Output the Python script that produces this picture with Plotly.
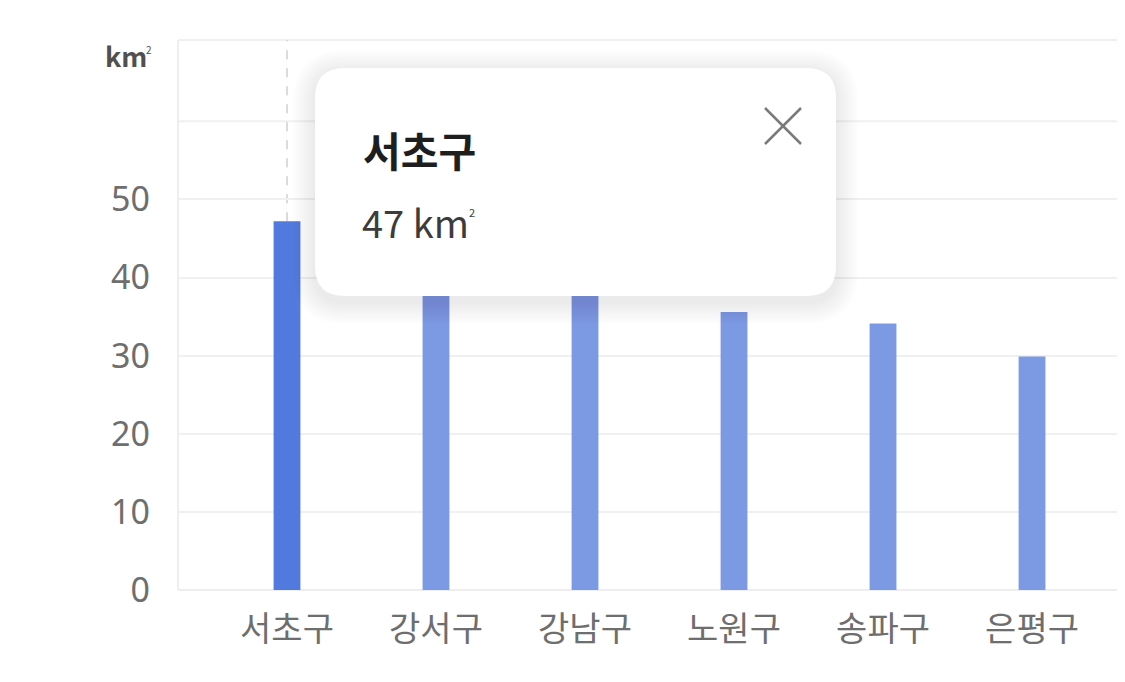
import plotly.graph_objects as go

districts = ["서초구", "강서구", "강남구", "노원구", "송파구", "은평구"]
areas = [47.2, 41.4, 39.5, 35.6, 34.1, 29.9]
y_tick_vals = [0, 10, 20, 30, 40, 50]
y_extra_grid = [60]
unit_base = "km"
unit_sup = "2"
selected = 0

W, H = 1125, 682
OFF = 8  # page body margin
SL, SR, ST, SB = 178, 1125, 40, 590
L = SL - OFF
T = ST - OFF
R = W - (SR - OFF)
B = H - (SB - OFF)
PW, PH = W - L - R, H - T - B
FONT = "Noto Sans CJK KR, Noto Sans, sans-serif"

def px(x):
    return (x - SL) / PW

def py(y):
    return (SB - y) / PH

def rrect(x0, y0, x1, y1, r):
    pts = [
        f"M {px(x0 + r)},{py(y0)}",
        f"L {px(x1 - r)},{py(y0)}",
        f"Q {px(x1)},{py(y0)} {px(x1)},{py(y0 + r)}",
        f"L {px(x1)},{py(y1 - r)}",
        f"Q {px(x1)},{py(y1)} {px(x1 - r)},{py(y1)}",
        f"L {px(x0 + r)},{py(y1)}",
        f"Q {px(x0)},{py(y1)} {px(x0)},{py(y1 - r)}",
        f"L {px(x0)},{py(y0 + r)}",
        f"Q {px(x0)},{py(y0)} {px(x0 + r)},{py(y0)}",
        "Z",
    ]
    return " ".join(pts)

colors = ["#5279DD" if i == selected else "#7C99E3" for i in range(len(districts))]

fig = go.Figure(
    go.Bar(
        x=districts,
        y=areas,
        marker=dict(color=colors, line=dict(width=0)),
        width=0.18,
        hoverinfo="skip",
    )
)

shapes = []
for gv in y_extra_grid:
    shapes.append(dict(type="line", xref="paper", yref="y", x0=0, x1=1, y0=gv, y1=gv,
                       line=dict(color="#F0F0F0", width=2), layer="below"))
shapes.append(dict(type="line", xref="x", yref="y", x0=districts[selected], x1=districts[selected],
                   y0=areas[selected], y1=70.4, line=dict(color="#CFCFD4", width=1.5, dash="dash"), layer="below"))
shapes.append(dict(type="line", xref="paper", yref="paper", x0=0, x1=0, y0=0, y1=1,
                   line=dict(color="#EEEEEE", width=2), layer="below"))
shapes.append(dict(type="line", xref="paper", yref="paper", x0=0, x1=1, y0=1, y1=1,
                   line=dict(color="#F0F0F0", width=2), layer="below"))
bx0, by0, bx1, by1, rad = 315, 68, 836, 296, 30
for i in range(10):
    g = 22 - i * 2.2
    shapes.append(dict(type="path", xref="paper", yref="paper",
                       path=rrect(bx0 - g, by0 - g + 4, bx1 + g, by1 + g + 6, rad + g),
                       fillcolor="rgba(0,0,0,0.009)", line=dict(width=0)))
shapes.append(dict(type="path", xref="paper", yref="paper", path=rrect(bx0, by0, bx1, by1, rad),
                   fillcolor="white", line=dict(width=0)))
cx, cy, s = 783, 126, 18
shapes.append(dict(type="line", xref="paper", yref="paper", x0=px(cx - s), y0=py(cy - s), x1=px(cx + s), y1=py(cy + s),
                   line=dict(color="#7A7A7A", width=2.5)))
shapes.append(dict(type="line", xref="paper", yref="paper", x0=px(cx - s), y0=py(cy + s), x1=px(cx + s), y1=py(cy - s),
                   line=dict(color="#7A7A7A", width=2.5)))

annotations = [
    dict(text=f"<b>{unit_base}</b>", xref="paper", yref="paper",
         x=px(126), y=py(56), showarrow=False,
         xanchor="center", yanchor="middle", font=dict(family=FONT, size=27, color="#505050")),
    dict(text=unit_sup, xref="paper", yref="paper", x=px(149), y=py(49), showarrow=False,
         xanchor="center", yanchor="middle", font=dict(family=FONT, size=10, color="#505050")),
    dict(text=f"<b>{districts[selected]}</b>", xref="paper", yref="paper", x=px(361), y=py(149), showarrow=False,
         xanchor="left", yanchor="middle", font=dict(family=FONT, size=41, color="#1E1E1E")),
    dict(text=f"{round(areas[selected])} {unit_base}",
         xref="paper", yref="paper", x=px(360), y=py(221), showarrow=False,
         xanchor="left", yanchor="middle", font=dict(family=FONT, size=38, color="#3C3C3C")),
    dict(text=unit_sup, xref="paper", yref="paper", x=px(472), y=py(212), showarrow=False,
         xanchor="center", yanchor="middle", font=dict(family=FONT, size=11, color="#3C3C3C")),
]

fig.update_layout(
    width=W, height=H,
    margin=dict(l=L, r=R, t=T, b=B, pad=0),
    paper_bgcolor="white", plot_bgcolor="white",
    showlegend=False,
    hovermode=False,
    shapes=shapes,
    annotations=annotations,
    xaxis=dict(
        range=[-0.7315, 5.624], showgrid=False, zeroline=False, showline=False,
        ticks="", tickfont=dict(family=FONT, size=34, color="#6E6E6E"), ticklabelstandoff=16,
        fixedrange=True,
    ),
    yaxis=dict(
        range=[0, 70.4], tickvals=y_tick_vals,
        showgrid=True, gridcolor="#F0F0F0", gridwidth=2, zeroline=True, zerolinecolor="#EEEEEE",
        zerolinewidth=2, showline=False, ticks="",
        tickfont=dict(family="Noto Sans, sans-serif", size=34, color="#6E6E6E"), ticklabelstandoff=27,
        fixedrange=True,
    ),
)

fig.write_html("out.html", config={"displayModeBar": False})
